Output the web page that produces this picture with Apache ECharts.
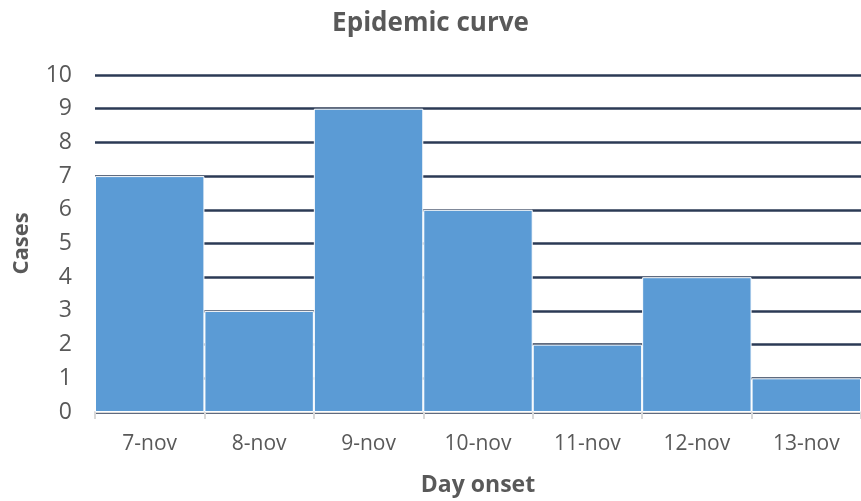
<!DOCTYPE html>
<html><head><meta charset="utf-8">
<script src="https://cdn.jsdelivr.net/npm/echarts@6/dist/echarts.min.js"></script>
<style>html,body{margin:0;padding:0;background:#fff}#c{width:861px;height:501px}</style>
</head><body><div id="c"></div>
<script>
const categories = ['7-nov','8-nov','9-nov','10-nov','11-nov','12-nov','13-nov'];
const cases = [7,3,9,6,2,4,1];
const chart = echarts.init(document.getElementById('c'));
const font = '"Open Sans", "Noto Sans", sans-serif';
chart.setOption({
  animation:false,
  title:{text:'Epidemic curve',left:'center',top:6,textStyle:{fontFamily:font,fontSize:26,fontWeight:'bold',color:'#595959'}},
  grid:{left:95,right:0,top:75,bottom:89,containLabel:false,outerBoundsMode:'none'},
  xAxis:{type:'category',data:categories,
    name:'Day onset',nameLocation:'middle',nameGap:62,
    nameTextStyle:{fontFamily:font,fontSize:23,fontWeight:'bold',color:'#595959'},
    axisLine:{lineStyle:{color:'#d9d9d9',width:2}},
    axisTick:{show:true,length:7,lineStyle:{color:'#d9d9d9',width:2}},
    axisLabel:{fontFamily:font,fontSize:21,color:'#595959',margin:22}},
  yAxis:{type:'value',min:0,max:10,interval:1,
    name:'Cases',nameLocation:'middle',nameGap:62,
    nameTextStyle:{fontFamily:font,fontSize:22,fontWeight:'bold',color:'#595959'},
    axisLine:{show:false},axisTick:{show:false},
    axisLabel:{fontFamily:font,fontSize:23,color:'#595959',margin:23}},
  series:[{type:'bar',data:cases,barCategoryGap:'0%',
    itemStyle:{color:'#5b9bd5',borderColor:'#ffffff',borderWidth:1}}]
});
chart.setOption({yAxis:{splitLine:{lineStyle:{color:'#2b3a55',width:2.5}}}});
</script></body></html>
